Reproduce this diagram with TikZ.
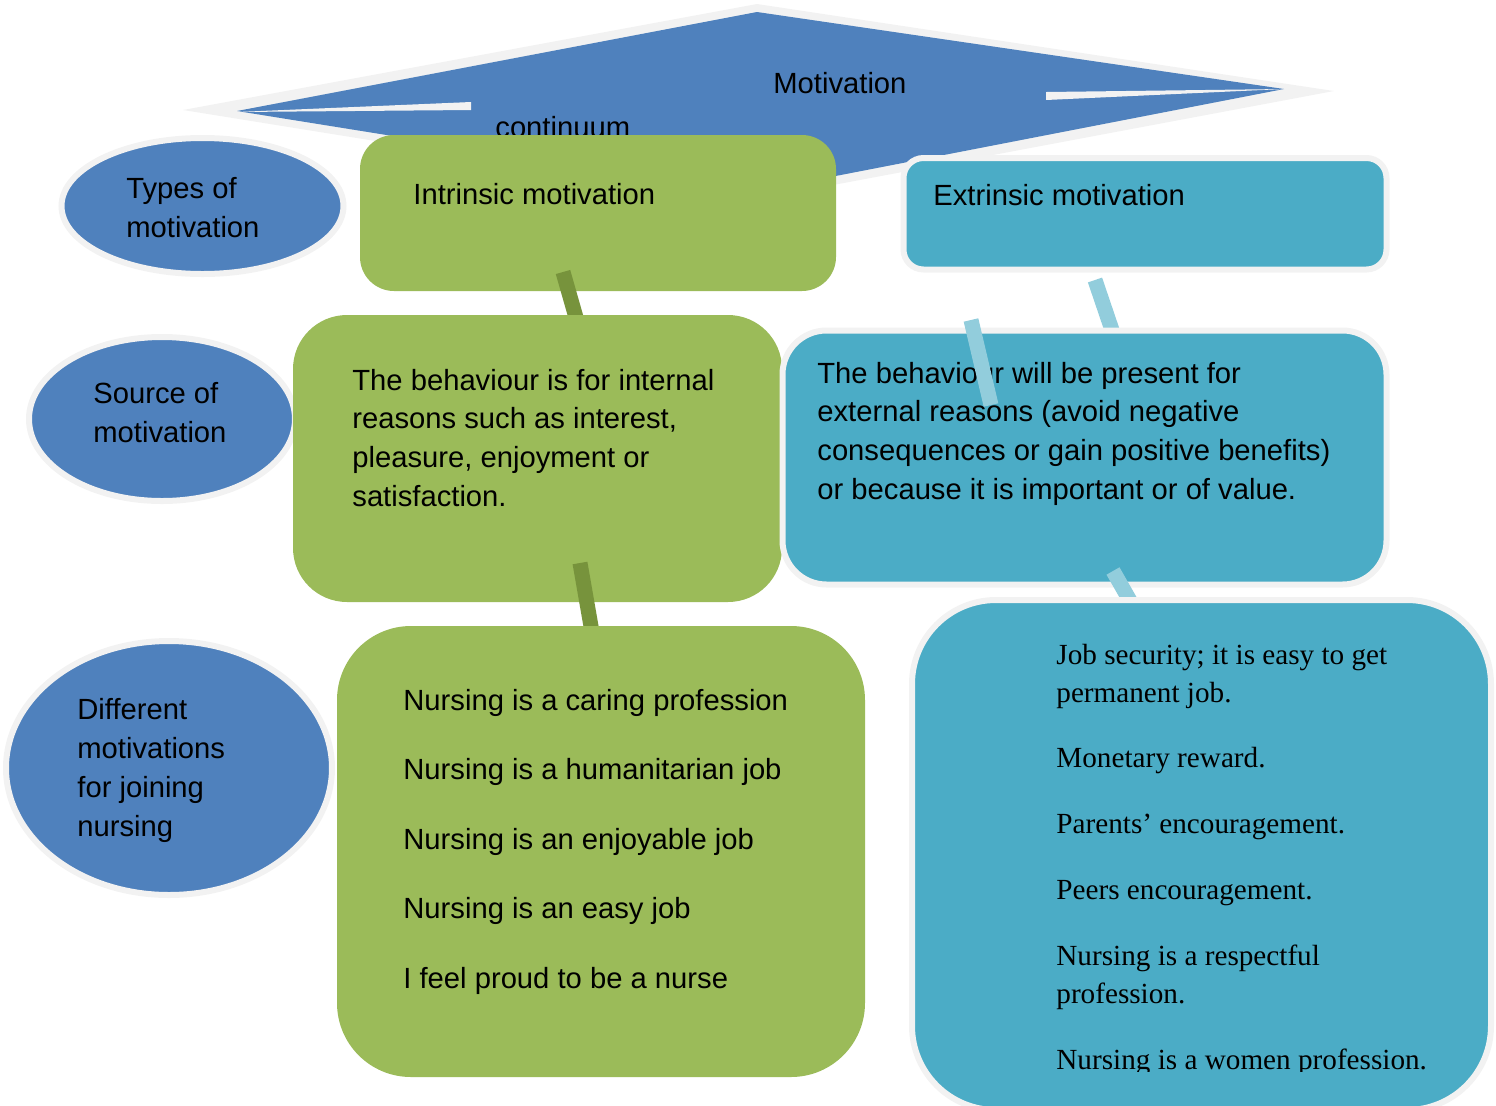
\documentclass[tikz,border=0pt]{standalone}
\usepackage{fontspec}
\setmainfont{Liberation Sans}
\newfontfamily\serifface{Liberation Serif}
\usepackage{tikz}
\usetikzlibrary{shapes.geometric}
\definecolor{kiteblue}{HTML}{4F81BD}
\definecolor{ingreen}{HTML}{9BBB59}
\definecolor{exteal}{HTML}{4BACC6}
\definecolor{rimgrey}{HTML}{F2F2F2}
\definecolor{bargreen}{HTML}{77933C}
\definecolor{barteal}{HTML}{92CDDC}
\tikzstyle{oval} = [ellipse, fill=kiteblue, draw=rimgrey, line width=3pt, inner sep=0pt]
\tikzstyle{inbox} = [rectangle, fill=ingreen, inner sep=0pt]
\tikzstyle{exbox} = [rectangle, fill=exteal, draw=rimgrey, line width=3pt, inner sep=0pt]
% multi-line texts sit on the baseline of their last line
\tikzstyle{txt} = [anchor=base west, align=left, inner sep=0pt, font=\fontsize{14.6}{19.4}\selectfont]
\tikzstyle{gbar} = [line width=7.5pt, bargreen]
\tikzstyle{tbar} = [line width=7.5pt, barteal]

\begin{document}
\begin{tikzpicture}[x=0.5pt, y=-0.5pt]
        \useasboundingbox (0,0) rectangle (1496,1105);
        \clip (0,0) rectangle (1496,1105);
        % continuum kite
        \fill [rimgrey] (183,110) -- (757,4) -- (1334,91) -- (748,201) -- cycle;
        \fill [kiteblue] (237,111) -- (757,12) -- (1284,89) -- (748,193) -- cycle;
        \fill [rimgrey] (237,112) -- (471,102) -- (471,110) -- cycle;
        \fill [rimgrey] (1046,92) -- (1284,89) -- (1046,100) -- cycle;
        \node (motivation) [txt] at (773,93) {Motivation};
        \node (continuum) [txt] at (495,137) {continuum};

        % row headings
        \node (types) [oval, minimum width=141pt, minimum height=68pt] at (202.5,206) {};
        \node (types-txt) [txt] at (126,237) {Types of\\motivation};
        \node (source) [oval, minimum width=133pt, minimum height=82pt] at (162,419) {};
        \node (source-txt) [txt] at (93,442) {Source of\\motivation};
        \node (reasons) [oval, minimum width=163pt, minimum height=127pt] at (169,768) {};
        \node (reasons-txt) [txt] at (77,836) {Different\\motivations\\for joining\\nursing};

        \coordinate (g1a) at (563,272);
        \coordinate (g1b) at (579,328);
        \coordinate (g2a) at (580,563);
        \coordinate (g2b) at (592,632);
        \coordinate (t1a) at (1095,280);
        \coordinate (t1b) at (1114,336);
        \coordinate (t2a) at (971,320);
        \coordinate (t2b) at (991,405);
        \coordinate (t3a) at (1113,571);
        \coordinate (t3b) at (1133,606);

        % intrinsic column
        \node (intrinsic) [inbox, minimum width=238pt, minimum height=78pt, rounded corners=17pt] at (598,213) {};
        \node (intrinsic-txt) [txt] at (413,204) {Intrinsic motivation};
        \draw [gbar] (g1a) -- (g1b);
        \node (inner) [inbox, minimum width=244.5pt, minimum height=143.5pt, rounded corners=27pt] at (537.5,458.5) {};
        \node (inner-txt) [txt] at (352,506.5) {The behaviour is for internal\\reasons such as interest,\\pleasure, enjoyment or\\satisfaction.};
        \draw [gbar] (g2a) -- (g2b);
        \node (inlist) [inbox, minimum width=264pt, minimum height=225.5pt, rounded corners=37pt] at (601,851.5) {};
        \node (inlist-txt) [txt, font=\fontsize{14.6}{34.75}\selectfont] at (403,988) {Nursing is a caring profession\\Nursing is a humanitarian job\\Nursing is an enjoyable job\\Nursing is an easy job\\I feel proud to be a nurse};

        % extrinsic column
        \node (extrinsic) [exbox, minimum width=241.5pt, minimum height=55.75pt, rounded corners=10pt] at (1145,213.75) {};
        \node (extrinsic-txt) [txt] at (933,205) {Extrinsic motivation};
        \draw [tbar] (t1a) -- (t1b);
        \node (outer) [exbox, minimum width=302pt, minimum height=127pt, rounded corners=22pt] at (1084.5,457.5) {};
        \node (outer-txt) [txt] at (817,499.5) {The behaviour will be present for\\external reasons (avoid negative\\consequences or gain positive benefits)\\or because it is important or of value.};
        \draw [tbar] (t2a) -- (t2b);
        \draw [tbar] (t3a) -- (t3b);
        \node (exlist) [exbox, minimum width=289.5pt, minimum height=255pt, rounded corners=42pt] at (1201.5,855) {};
        \begin{scope}
            \clip (900,590) rectangle (1496,1071);
            \node (exlist-txt) [txt, font=\serifface\fontsize{14.6}{19}\selectfont] at (1056,1069) {Job security; it is easy to get\\permanent job.\\[13.9pt]Monetary reward.\\[13.9pt]Parents’ encouragement.\\[13.9pt]Peers encouragement.\\[13.9pt]Nursing is a respectful\\profession.\\[13.9pt]Nursing is a women profession.};
        \end{scope}
    \end{tikzpicture}
\end{document}
